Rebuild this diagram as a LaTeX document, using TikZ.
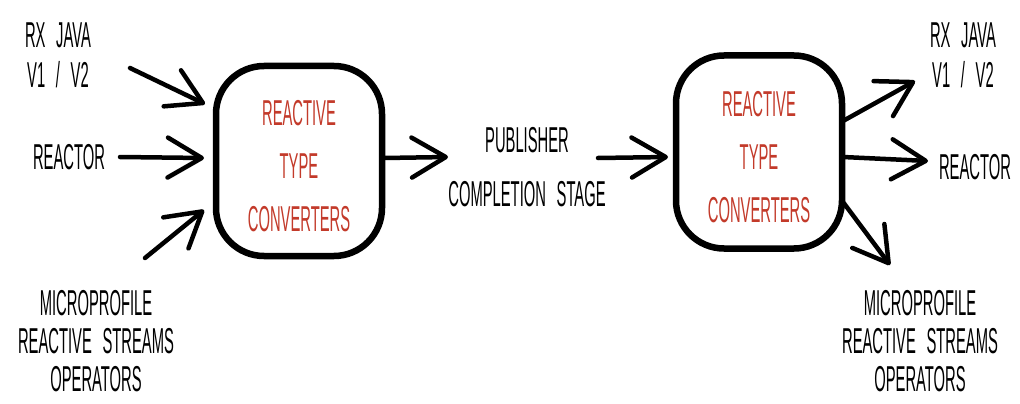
\documentclass[tikz,border=0pt]{standalone}
\usepackage{fontspec}
\setmainfont{Liberation Sans}[FakeStretch=0.41, WordSpace=2.6]
\usetikzlibrary{arrows.meta}
\definecolor{convred}{RGB}{195,58,42}
\tikzset{
  lbl/.style={text=black, align=center, inner sep=0pt, font=\fontsize{36}{40}\selectfont},
  redlbl/.style={text=convred, align=center, font=\fontsize{36}{53}\selectfont},
  convbox/.style={draw=black, line width=6.5pt, rounded corners=48pt, minimum width=166pt, inner sep=0pt},
  arr/.style={line width=4.5pt, line cap=round, line join=round,
    -{Straight Barb[length=34pt, width=40pt, line width=4.5pt, round]}}
}
\begin{document}
\begin{tikzpicture}[x=1pt, y=-1pt]
\useasboundingbox[fill=white] (0,0) rectangle (1020,404);
% left texts
\node[lbl] (rxL) at (58,55) {RX JAVA\\V1 / V2};
\node[lbl] (reactorL) at (69,157) {REACTOR};
\node[lbl, font=\fontsize{36}{38}\selectfont] (mpL) at (96,341) {MICROPROFILE\\REACTIVE STREAMS\\OPERATORS};
% boxes
\node[convbox, minimum height=190pt] (boxL) at (299,161) {};
\node[redlbl] (txtL) at (299,166) {REACTIVE\\TYPE\\CONVERTERS};
\node[convbox, minimum height=193pt] (boxR) at (759,152) {};
\node[redlbl] (txtR) at (759,157) {REACTIVE\\TYPE\\CONVERTERS};
% middle text
\node[lbl, font=\fontsize{36}{54}\selectfont] (pub) at (527,167) {PUBLISHER\\COMPLETION STAGE};
% right texts
\node[lbl] (rxR) at (963,55) {RX JAVA\\V1 / V2};
\node[lbl] (reactorR) at (975,167) {REACTOR};
\node[lbl, font=\fontsize{36}{38}\selectfont] (mpR) at (920,341) {MICROPROFILE\\REACTIVE STREAMS\\OPERATORS};
% arrow end points
\coordinate (a1s) at (130,68);  \coordinate (a1e) at (205,104);
\coordinate (a2s) at (120,157); \coordinate (a2e) at (204,158);
\coordinate (a3s) at (145,258); \coordinate (a3e) at (204,210);
\coordinate (m1s) at (384,158); \coordinate (m1e) at (448,157);
\coordinate (m2s) at (598,158); \coordinate (m2e) at (668,157);
\coordinate (b1s) at (843,121); \coordinate (b1e) at (915,81);
\coordinate (b2s) at (843,157); \coordinate (b2e) at (928,161);
\coordinate (b3s) at (843,202); \coordinate (b3e) at (890,265);
\draw[arr] (a1s) -- (a1e);
\draw[arr] (a2s) -- (a2e);
\draw[arr] (a3s) -- (a3e);
\draw[arr] (m1s) -- (m1e);
\draw[arr] (m2s) -- (m2e);
\draw[arr] (b1s) -- (b1e);
\draw[arr] (b2s) -- (b2e);
\draw[arr] (b3s) -- (b3e);
\end{tikzpicture}
\end{document}
